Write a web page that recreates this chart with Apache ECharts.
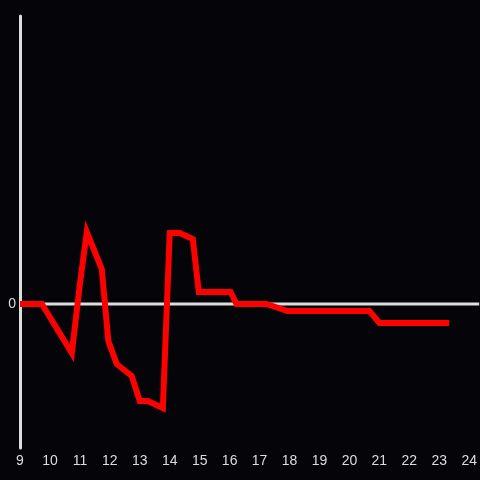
<!DOCTYPE html>
<html>
<head>
<meta charset="utf-8">
<script src="https://cdn.jsdelivr.net/npm/echarts@6/dist/echarts.min.js"></script>
<style>
  html, body { margin: 0; padding: 0; background: #050409; }
  #main { width: 480px; height: 480px; }
</style>
</head>
<body>
<div id="main"></div>
<script>
// hour of day (decimal) and value
var hours = [9.0, 9.73, 10.73, 11.0, 11.23, 11.73, 11.95, 12.23, 12.73, 13.0, 13.27, 13.77,
  14.0, 14.33, 14.77, 14.97, 16.03, 16.23, 17.23, 17.93, 20.67, 21.0, 23.33];
var values = [0, 0, -49, 20, 72, 35, -37, -60, -72, -97, -97, -104,
  71, 71, 65, 12, 12, 0, 0, -7, -7, -19, -19];
var xTicks = [9, 10, 11, 12, 13, 14, 15, 16, 17, 18, 19, 20, 21, 22, 23, 24];
var xMin = 9, xMax = 24.333;
var yMin = -144, yMax = 288;

var chartDom = document.getElementById('main');
var myChart = echarts.init(chartDom);

var points = hours.map(function (h, i) { return [h, values[i]]; });

var option = {
  backgroundColor: '#050409',
  animation: false,
  grid: {
    left: 20,
    right: 0,
    top: 16,
    bottom: 32
  },
  xAxis: {
    type: 'value',
    min: xMin,
    max: xMax,
    interval: 1,
    axisLine: { show: false },
    axisTick: { show: false },
    splitLine: { show: false },
    axisLabel: {
      color: '#dddddd',
      fontSize: 14,
      margin: 6,
      showMaxLabel: false,
      formatter: function (v) { return xTicks.indexOf(v) >= 0 ? String(v) : ''; }
    }
  },
  yAxis: {
    type: 'value',
    min: yMin,
    max: yMax,
    axisLine: { show: true, onZero: false, lineStyle: { color: '#dddddd', width: 3 } },
    axisTick: { show: false },
    splitLine: { show: false },
    axisLabel: {
      color: '#dddddd',
      fontSize: 14,
      margin: 4,
      showMinLabel: false,
      showMaxLabel: false,
      formatter: function (v) { return v === 0 ? '0' : ''; }
    }
  },
  series: [
    {
      // zero line
      type: 'line',
      data: [[xMin, 0], [xMax, 0]],
      showSymbol: false,
      symbol: 'none',
      silent: true,
      lineStyle: { color: '#dddddd', width: 3 },
      z: 1
    },
    {
      type: 'line',
      data: points,
      showSymbol: false,
      symbol: 'none',
      lineStyle: { color: '#ff0000', width: 6, join: 'miter', cap: 'butt' },
      z: 5
    }
  ]
};

option && myChart.setOption(option);
</script>
</body>
</html>
